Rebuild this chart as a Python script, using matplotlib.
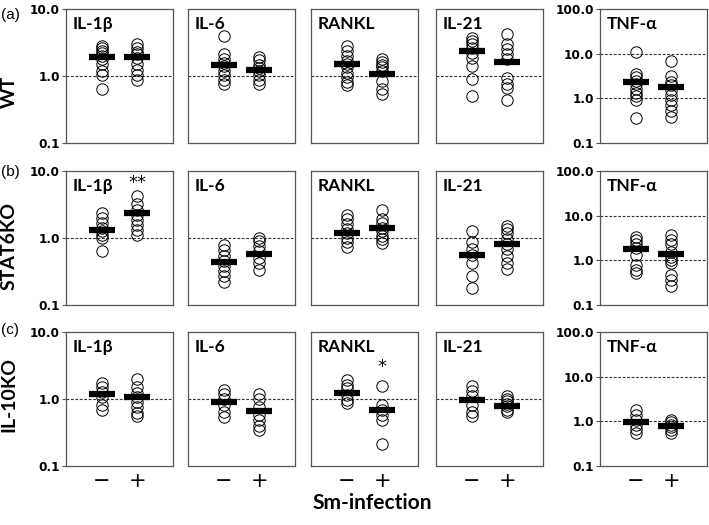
import matplotlib
matplotlib.use("Agg")
import matplotlib.pyplot as plt
import numpy as np

# ---------------- data ----------------
cytokines = ["IL-1β", "IL-6", "RANKL", "IL-21", "TNF-α"]
strains = ["WT", "STAT6KO", "IL-10KO"]
panel_tags = ["(a)", "(b)", "(c)"]
groups = ["\u2212", "+"]

# WT
wt_il1b_neg = [2.8, 2.6, 2.4, 2.2, 2.0, 1.8, 1.5, 1.2, 1.05, 0.65]
wt_il1b_pos = [3.0, 2.6, 2.3, 2.1, 1.85, 1.5, 1.25, 1.05, 0.88]
wt_il6_neg = [4.0, 2.1, 1.8, 1.55, 1.4, 1.2, 1.05, 0.88, 0.75]
wt_il6_pos = [1.95, 1.75, 1.48, 1.3, 1.17, 1.05, 0.88, 0.77]
wt_rankl_neg = [2.8, 2.4, 2.0, 1.7, 1.5, 1.35, 1.1, 0.95, 0.82, 0.73]
wt_rankl_pos = [1.8, 1.6, 1.47, 1.35, 1.2, 0.85, 0.64, 0.54]
wt_il21_neg = [3.7, 3.3, 3.0, 2.6, 2.2, 1.85, 1.4, 0.89, 0.51]
wt_il21_pos = [4.2, 3.0, 2.5, 2.1, 1.77, 0.94, 0.75, 0.66, 0.44]
wt_tnf_neg = [10.9, 3.5, 3.0, 2.5, 2.1, 1.65, 1.3, 1.1, 0.92, 0.36]
wt_tnf_pos = [6.9, 3.2, 2.3, 1.95, 1.5, 1.2, 0.92, 0.72, 0.51, 0.38]
# STAT6KO
st_il1b_neg = [2.37, 2.0, 1.68, 1.41, 1.26, 1.12, 1.0, 0.65]
st_il1b_pos = [4.3, 3.2, 2.65, 2.24, 1.88, 1.58, 1.33, 1.12]
st_il6_neg = [0.79, 0.67, 0.53, 0.45, 0.38, 0.32, 0.27, 0.22]
st_il6_pos = [1.0, 0.89, 0.75, 0.63, 0.5, 0.42, 0.33]
st_rankl_neg = [2.2, 1.9, 1.6, 1.35, 1.17, 1.0, 0.87, 0.74]
st_rankl_pos = [2.6, 1.9, 1.65, 1.42, 1.27, 1.08, 0.95, 0.85]
st_il21_neg = [1.26, 0.87, 0.69, 0.55, 0.43, 0.27, 0.18]
st_il21_pos = [1.5, 1.34, 1.17, 0.98, 0.82, 0.69, 0.53, 0.43, 0.34]
st_tnf_neg = [3.4, 2.85, 2.3, 1.85, 1.3, 0.79, 0.6, 0.51]
st_tnf_pos = [3.7, 2.85, 2.3, 1.56, 1.2, 1.02, 0.86, 0.47, 0.36, 0.27]
# IL-10KO
ko_il1b_neg = [1.76, 1.51, 1.27, 1.07, 0.8, 0.68]
ko_il1b_pos = [2.0, 1.5, 1.23, 1.07, 0.9, 0.76, 0.62, 0.55]
ko_il6_neg = [1.38, 1.2, 1.01, 0.8, 0.64, 0.53]
ko_il6_pos = [1.17, 1.01, 0.76, 0.57, 0.48, 0.4, 0.34]
ko_rankl_neg = [1.95, 1.64, 1.46, 1.16, 0.98, 0.87]
ko_rankl_pos = [1.55, 0.82, 0.68, 0.58, 0.49, 0.21]
ko_il21_neg = [1.55, 1.3, 1.1, 0.82, 0.65, 0.56]
ko_il21_pos = [1.1, 1.0, 0.92, 0.85, 0.78, 0.69, 0.63]
ko_tnf_neg = [1.83, 1.41, 1.09, 0.84, 0.67, 0.55]
ko_tnf_pos = [1.09, 0.95, 0.84, 0.74, 0.65, 0.56]

# mean bars [row][col] = (neg, pos)
means_wt = [(1.94, 1.9), (1.48, 1.23), (1.51, 1.08), (2.4, 1.62), (2.3, 1.8)]
means_st = [(1.3, 2.35), (0.44, 0.58), (1.2, 1.4), (0.55, 0.8), (1.8, 1.38)]
means_ko = [(1.19, 1.07), (0.91, 0.66), (1.25, 0.69), (0.97, 0.79), (0.98, 0.79)]

# significance marks: (row, col, group, text, level)
signif = [(1, 0, 1, "**", 6.6), (2, 2, 1, "*", 3.0)]

rows_data = [
    [(wt_il1b_neg, wt_il1b_pos), (wt_il6_neg, wt_il6_pos), (wt_rankl_neg, wt_rankl_pos),
     (wt_il21_neg, wt_il21_pos), (wt_tnf_neg, wt_tnf_pos)],
    [(st_il1b_neg, st_il1b_pos), (st_il6_neg, st_il6_pos), (st_rankl_neg, st_rankl_pos),
     (st_il21_neg, st_il21_pos), (st_tnf_neg, st_tnf_pos)],
    [(ko_il1b_neg, ko_il1b_pos), (ko_il6_neg, ko_il6_pos), (ko_rankl_neg, ko_rankl_pos),
     (ko_il21_neg, ko_il21_pos), (ko_tnf_neg, ko_tnf_pos)],
]
rows_means = [means_wt, means_st, means_ko]

# ---------------- layout ----------------
W, H = 709, 525
fig = plt.figure(figsize=(W / 100, H / 100), dpi=100)

col_left = [66, 188, 311, 436, 600]
col_width = 107
row_top = [9, 171, 332]
row_h = 134
label_y = [92, 246, 395]
tag_y = [15, 172, 330]

title_font = dict(family="Lato", weight="bold", size=12.5)
tick_font = dict(family="DejaVu Sans", weight="bold", size=8.7)
spine_col = "#555555"

for r in range(3):
    for c in range(5):
        x0 = col_left[c]
        y0 = row_top[r]
        ax = fig.add_axes([x0 / W, 1 - (y0 + row_h) / H, col_width / W, row_h / H])
        ax.set_yscale("log")
        ax.set_xlim(0, 3)
        if c == 4:
            ax.set_ylim(0.1, 100)
            refs = [1.0, 10.0]
            ticks = [0.1, 1.0, 10.0, 100.0]
        else:
            ax.set_ylim(0.1, 10)
            refs = [1.0]
            ticks = [0.1, 1.0, 10.0]
        for rv in refs:
            ax.axhline(rv, color="#333333", lw=0.8, ls=(0, (2.5, 1.5)), zorder=1)
        neg, pos = rows_data[r][c]
        for gi, vals in enumerate([neg, pos]):
            xs = np.full(len(vals), gi + 1.0)
            ax.plot(xs, vals, ls="none", marker="o", ms=8.2, mfc="none",
                    mec="black", mew=0.7, zorder=2)
            m = rows_means[r][c][gi]
            ax.hlines(m, gi + 1 - 0.36, gi + 1 + 0.36, color="black", lw=4.5, zorder=3)
        ax.text(0.06, 0.95, cytokines[c], transform=ax.transAxes, ha="left", va="top",
                **title_font)
        ax.set_xticks([])
        ax.minorticks_off()
        if c in (0, 4):
            ax.set_yticks(ticks)
            ax.set_yticklabels(["%.1f" % t for t in ticks], fontdict=tick_font)
            ax.tick_params(axis="y", length=3, width=0.8, color=spine_col, pad=1.5)
        else:
            ax.set_yticks([])
        for s in ax.spines.values():
            s.set_color(spine_col)
            s.set_linewidth(0.9)
        for (sr, sc, sg, st, lvl) in signif:
            if sr == r and sc == c:
                ax.text(sg + 1, lvl, st, ha="center", va="center",
                        family="DejaVu Sans", size=13)
        if r == 2:
            for gi, g in enumerate(groups):
                ax.text(gi + 1, -0.115, g, transform=ax.get_xaxis_transform(),
                        ha="center", va="center", family="DejaVu Sans", size=15)

    fig.text(9 / W, 1 - label_y[r] / H, strains[r], rotation=90, ha="center", va="center",
             family="Lato", weight="bold", size=14)
    fig.text(1 / W, 1 - tag_y[r] / H, panel_tags[r], ha="left", va="center",
             family="Liberation Sans", size=11)

fig.text(372 / W, 1 - 503 / H, "Sm-infection", ha="center", va="center",
         family="Lato", weight="bold", size=15)

fig.savefig("out.png", dpi=100)
